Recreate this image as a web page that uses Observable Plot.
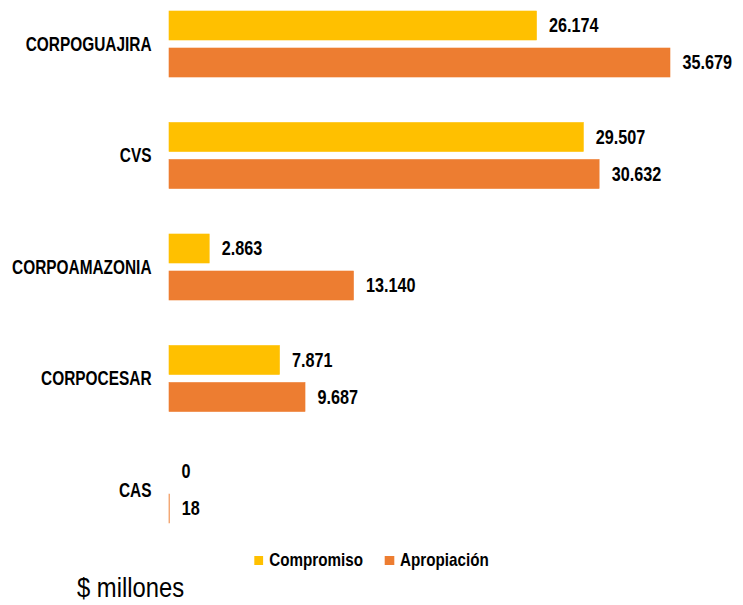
<!DOCTYPE html>
<html>
<head>
<meta charset="utf-8">
<script src="https://cdn.jsdelivr.net/npm/d3@7"></script>
<script src="https://cdn.jsdelivr.net/npm/@observablehq/plot@0.6"></script>
<style>
  html, body { margin: 0; padding: 0; background: #ffffff; }
  body { font-family: "Liberation Sans", Arial, sans-serif; width: 743px; }
  #legend { display: flex; justify-content: center; align-items: center; gap: 27.5px; margin-top: 10px; font-size: 19px; font-weight: bold; color: #000; line-height: 20px; transform: scaleX(0.8); transform-origin: 371.5px 50%; }
  #legend .item { display: flex; align-items: center; gap: 7.5px; }
  #legend .sw { width: 11.25px; height: 9px; display: inline-block; }
  #unit { margin-top: 2px; padding-left: 77px; font-size: 28px; line-height: 31px; color: #000; }
  #unit span { display: inline-block; transform: scaleX(0.85); transform-origin: 0 50%; }
</style>
</head>
<body>
<div id="chart"></div>
<div id="legend"></div>
<div id="unit"><span></span></div>
<script>
const categories = ["CORPOGUAJIRA", "CVS", "CORPOAMAZONIA", "CORPOCESAR", "CAS"];
const series = ["Compromiso", "Apropiación"];
const compromiso = [26174, 29507, 2863, 7871, 0];
const apropiacion = [35679, 30632, 13140, 9687, 18];
const colors = ["#FFC000", "#ED7D31"];
const unitLabel = "$ millones";

const table = [];
categories.forEach((c, i) => {
  table.push({cat: c, series: series[0], value: compromiso[i]});
  table.push({cat: c, series: series[1], value: apropiacion[i]});
});

const fmt = d3.formatLocale({decimal: ",", thousands: ".", grouping: [3], currency: ["$", ""]}).format(",d");

const chart = Plot.plot({
  width: 743,
  height: 540,
  marginLeft: 169,
  marginRight: 73,
  marginTop: 11,
  marginBottom: 17,
  style: {fontFamily: "'Liberation Sans', Arial, sans-serif", fontSize: "20px", fontWeight: "bold", color: "#000", background: "#fff"},
  x: {domain: [0, d3.max(apropiacion)], axis: null},
  y: {domain: series, axis: null, paddingInner: 8 / 37, paddingOuter: 0, round: false},
  fy: {domain: categories, paddingInner: 0.408, paddingOuter: 0, label: null, tickSize: 0, tickPadding: 18, axis: "left", round: false},
  color: {domain: series, range: colors},
  marks: [
    Plot.barX(table, {x: "value", y: "series", fy: "cat", fill: "series", stroke: "series", strokeWidth: 0.6, filter: d => d.value > 0}),
    Plot.text(table, {x: "value", y: "series", fy: "cat", text: d => fmt(d.value), dx: 12, textAnchor: "start", fill: "#000", fontSize: 19.5, fontWeight: "bold"})
  ]
});
document.getElementById("chart").appendChild(chart);

// condense glyphs horizontally (narrow typeface look) without moving anchors
chart.querySelectorAll("text").forEach(t => {
  const anchorEl = t.closest("[text-anchor]");
  const anchor = t.getAttribute("text-anchor") || (anchorEl ? anchorEl.getAttribute("text-anchor") : "start");
  const k = anchor === "end" ? 0.77 : 0.83;
  const len = t.getComputedTextLength();
  if (len > 0) {
    t.setAttribute("textLength", (len * k).toFixed(2));
    t.setAttribute("lengthAdjust", "spacingAndGlyphs");
  }
});

const legend = document.getElementById("legend");
series.forEach((s, i) => {
  const item = document.createElement("span");
  item.className = "item";
  const sw = document.createElement("span");
  sw.className = "sw";
  sw.style.background = colors[i];
  const t = document.createElement("span");
  t.textContent = s;
  item.appendChild(sw);
  item.appendChild(t);
  legend.appendChild(item);
});
document.querySelector("#unit span").textContent = unitLabel;
</script>
</body>
</html>
